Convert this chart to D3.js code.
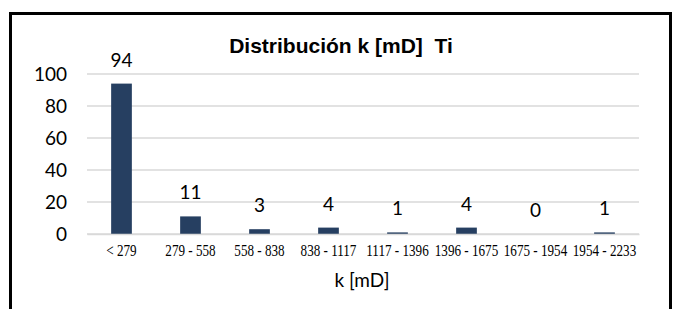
<!DOCTYPE html>
<html><head><meta charset="utf-8">
<script src="https://cdn.jsdelivr.net/npm/d3@7"></script>
<style>body{margin:0;background:#fff}svg{display:block}</style>
</head><body><svg id="c" width="675" height="309"></svg>
<script>
const categories = ["< 279","279 - 558","558 - 838","838 - 1117","1117 - 1396","1396 - 1675","1675 - 1954","1954 - 2233"];
const values = [94, 11, 3, 4, 1, 4, 0, 1];
const yTicks = [0, 20, 40, 60, 80, 100];
const title = "Distribución k [mD]  Ti";
const xTitle = "k [mD]";

const sans = "Lato, 'Open Sans', sans-serif";
const svg = d3.select("#c");
svg.append("rect").attr("x",10.5).attr("y",13.5).attr("width",660).attr("height",320)
  .attr("fill","#fff").attr("stroke","#000").attr("stroke-width",3);

const x = d3.scaleBand().domain(categories).range([87, 639]).paddingInner(0.7).paddingOuter(0.35);
const y = d3.scaleLinear().domain([0, 100]).range([234, 74]);

const g = svg.append("g");
g.selectAll("line.grid").data(yTicks).join("line").attr("class","grid")
  .attr("x1",87).attr("x2",639).attr("y1",d=>y(d)).attr("y2",d=>y(d))
  .attr("stroke","#d9d9d9").attr("stroke-width",1.5);

const yAxis = d3.axisLeft(y).tickValues(yTicks).tickSize(0).tickPadding(20);
const ya = svg.append("g").attr("transform","translate(87,0)").call(yAxis);
ya.select(".domain").remove();
ya.selectAll("text").attr("font-family",sans).attr("font-size",19).attr("fill","#000").attr("dy","0.36em");

g.selectAll("rect.bar").data(values).join("rect").attr("class","bar")
  .attr("x",(d,i)=>x(categories[i])).attr("width",x.bandwidth())
  .attr("y",d=>y(d)).attr("height",d=>y(0)-y(d)).attr("fill","#263f61");

g.selectAll("text.val").data(values).join("text").attr("class","val")
  .attr("x",(d,i)=>x(categories[i])+x.bandwidth()/2).attr("y",d=>y(d)-17)
  .attr("text-anchor","middle").attr("font-family",sans)
  .attr("font-size",19).attr("fill","#000").text(d=>d);

const xAxis = d3.axisBottom(x).tickSize(0);
const xa = svg.append("g").attr("transform","translate(0,234)").call(xAxis);
xa.select(".domain").attr("stroke","#d9d9d9").attr("stroke-width",1.5);
xa.selectAll("text").attr("font-family","'Liberation Serif', 'Times New Roman', serif")
  .attr("font-size",16).attr("fill","#000").attr("y",22).attr("dy",0)
  .attr("transform","scale(0.82,1)");

svg.append("text").attr("x",362).attr("y",287).attr("text-anchor","middle")
  .attr("font-family",sans).attr("font-size",19).text(xTitle);
svg.append("text").attr("x",341).attr("y",53).attr("text-anchor","middle")
  .attr("font-family","'Liberation Sans', Arial, sans-serif").style("white-space","pre")
  .attr("font-weight","bold").attr("font-size",21).text(title);
</script></body></html>
